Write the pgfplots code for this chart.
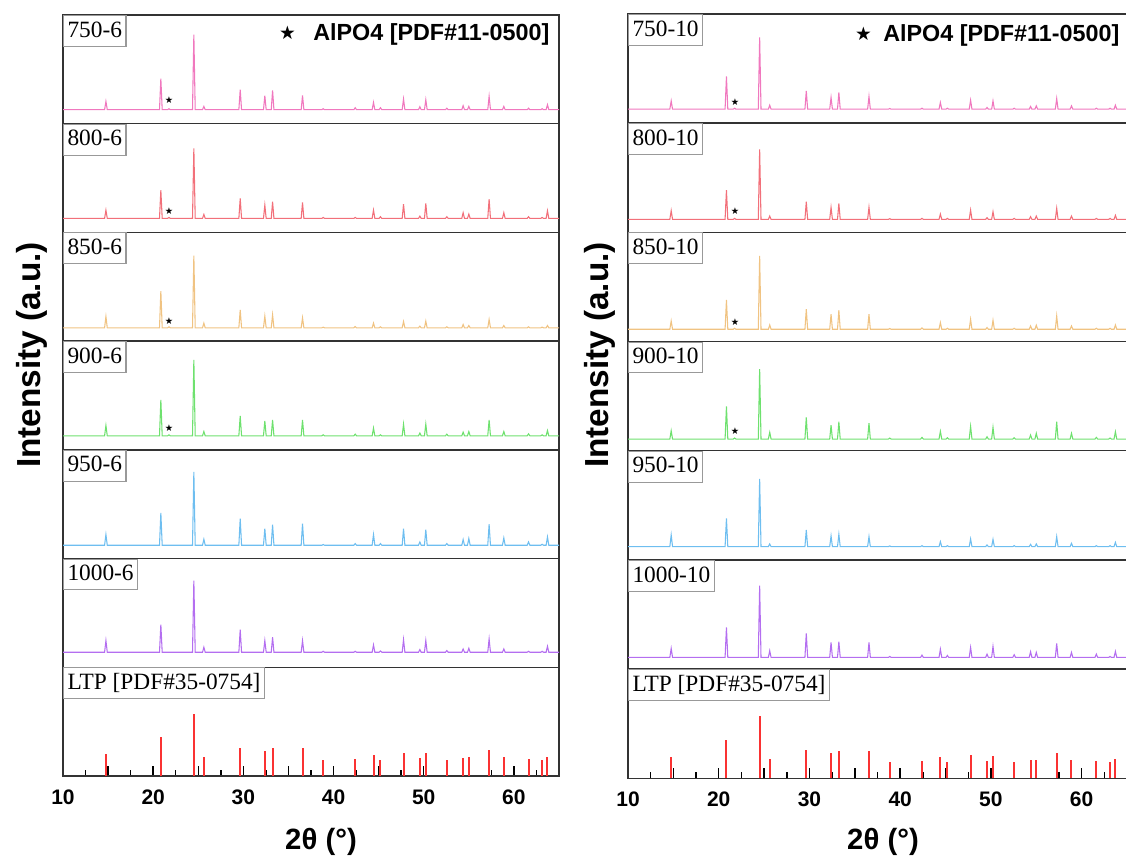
\documentclass[border=0pt]{standalone}
\usepackage{fontspec}
\setmainfont{Liberation Serif}
\setsansfont{Liberation Sans}
\newfontfamily\djv{DejaVu Sans}
\usepackage{pgfplots}
\usepackage{pgfplotstable}
\pgfplotsset{compat=1.18}

\definecolor{c750}{RGB}{240,120,190}
\definecolor{c800}{RGB}{242,112,122}
\definecolor{c850}{RGB}{240,195,130}
\definecolor{c900}{RGB}{110,225,110}
\definecolor{c950}{RGB}{110,190,240}
\definecolor{c1000}{RGB}{180,110,240}
\definecolor{ltpred}{RGB}{250,50,50}

% heights (px above baseline) of each pattern
\pgfplotstableread{
x a750 a800 a850 a900 a950 a1000 b750 b800 b850 b900 b950 b1000
10    0 0 0 0 0 0 0 0 0 0 0 0
14.61 0 0 0 0 0 0 0 0 0 0 0 0
14.76 8.3 8.3 11.3 10.3 10.7 11.7 8.3 8.7 8.3 8.3 11.7 9
14.91 0 0 0 0 0 0 0 0 0 0 0 0
20.70 0 0 0 0 0 0 0 0 0 0 0 0
20.85 31 28.3 36.7 36 32.3 27.7 32.7 29.3 29.3 32.7 28.3 30
21.00 0 0 0 0 0 0 0 0 0 0 0 0
21.60 0 0 0 0 0 0 0 0 0 0 0 0
21.75 1 1 1 1 0 0 1 1 1 1 0 0
21.90 0 0 0 0 0 0 0 0 0 0 0 0
24.36 0 0 0 0 0 0 0 0 0 0 0 0
24.51 75 70 72.3 76 73.3 71.7 71.7 70 73.3 70 67.7 71.7
24.66 0 0 0 0 0 0 0 0 0 0 0 0
25.47 0 0 0 0 0 0 0 0 0 0 0 0
25.62 3.3 4 4.7 4.3 6 5 4 3.3 4.3 6.7 2.7 6.7
25.77 0 0 0 0 0 0 0 0 0 0 0 0
29.50 0 0 0 0 0 0 0 0 0 0 0 0
29.65 20 20 18 20 26.7 22.7 18.3 17.7 20 21.7 16.7 24
29.80 0 0 0 0 0 0 0 0 0 0 0 0
32.23 0 0 0 0 0 0 0 0 0 0 0 0
32.38 14 13.3 11.7 15 16.7 11.7 11.7 12 15 14 10.7 15
32.53 0 0 0 0 0 0 0 0 0 0 0 0
33.09 0 0 0 0 0 0 0 0 0 0 0 0
33.24 19.3 16.7 13 16 20.7 15 16.7 16 19 17.3 12.3 15.7
33.39 0 0 0 0 0 0 0 0 0 0 0 0
36.41 0 0 0 0 0 0 0 0 0 0 0 0
36.56 14.3 16 10 16 21.7 11.7 12.7 12 15 16 10 15
36.71 0 0 0 0 0 0 0 0 0 0 0 0
38.70 0 0 0 0 0 0 0 0 0 0 0 0
38.85 1 1 0.7 1 0.7 1 0.7 0.7 0.7 1 0.7 1
39.00 0 0 0 0 0 0 0 0 0 0 0 0
42.25 0 0 0 0 0 0 0 0 0 0 0 0
42.40 2 1 1.3 1.7 1.7 1 1 1 1.3 1.7 1 2.3
42.55 0 0 0 0 0 0 0 0 0 0 0 0
44.28 0 0 0 0 0 0 0 0 0 0 0 0
44.43 7.3 8.3 4.7 7.7 10.7 7.3 6.7 5.3 6.7 7.7 5 8.3
44.58 0 0 0 0 0 0 0 0 0 0 0 0
45.05 0 0 0 0 0 0 0 0 0 0 0 0
45.20 2 1.7 1 1 1.7 1.3 1 1 1 1.3 1 2
45.35 0 0 0 0 0 0 0 0 0 0 0 0
47.61 0 0 0 0 0 0 0 0 0 0 0 0
47.76 10.7 14.3 6.3 11.7 16.7 12.7 9 9.3 10 12.7 7.7 10
47.91 0 0 0 0 0 0 0 0 0 0 0 0
49.42 0 0 0 0 0 0 0 0 0 0 0 0
49.57 3 2.3 1.7 2.7 3.3 2.7 1.7 1.7 1.7 2.3 1.7 3.3
49.72 0 0 0 0 0 0 0 0 0 0 0 0
50.08 0 0 0 0 0 0 0 0 0 0 0 0
50.23 10 15 6.7 11.7 15.7 11.7 8.3 7.7 9 11.7 7.3 11
50.38 0 0 0 0 0 0 0 0 0 0 0 0
52.41 0 0 0 0 0 0 0 0 0 0 0 0
52.56 1.5 1.7 1 1.7 1.7 1.7 1 1 1 1.3 1 2.7
52.71 0 0 0 0 0 0 0 0 0 0 0 0
54.22 0 0 0 0 0 0 0 0 0 0 0 0
54.37 4 5.7 3.3 3.7 5.7 3.3 2.7 2.7 3.3 4 2.3 5.7
54.52 0 0 0 0 0 0 0 0 0 0 0 0
54.85 0 0 0 0 0 0 0 0 0 0 0 0
55.00 3.3 4.3 2.3 4.3 6.7 4 3.3 3.3 4 5.7 2.7 5
55.15 0 0 0 0 0 0 0 0 0 0 0 0
57.10 0 0 0 0 0 0 0 0 0 0 0 0
57.25 13.3 19.3 8.3 16 21 13.3 10.7 11 13.3 17.3 10 14
57.40 0 0 0 0 0 0 0 0 0 0 0 0
58.73 0 0 0 0 0 0 0 0 0 0 0 0
58.88 3.3 5.7 2.3 4.3 7.3 3.3 3.3 3.3 3.3 5.7 3.3 5
59.03 0 0 0 0 0 0 0 0 0 0 0 0
61.47 0 0 0 0 0 0 0 0 0 0 0 0
61.62 1.5 1.7 1 2 3.3 1 1 1 1 1.7 1 3.3
61.77 0 0 0 0 0 0 0 0 0 0 0 0
62.98 0 0 0 0 0 0 0 0 0 0 0 0
63.13 1 1 0.7 1 1 1 1 1 1 1 1 1
63.28 0 0 0 0 0 0 0 0 0 0 0 0
63.57 0 0 0 0 0 0 0 0 0 0 0 0
63.72 5 7.7 2.3 5.3 8.3 6 4 4 4.3 7.3 4.3 6
63.87 0 0 0 0 0 0 0 0 0 0 0 0
65    0 0 0 0 0 0 0 0 0 0 0 0
}\xrd

% LTP reference lines [PDF#35-0754]
\pgfplotstableread{
x h
14.76 21.7
20.85 38.7
24.51 62
25.62 19
29.65 28.3
32.38 25
33.24 27.7
36.56 27.7
38.85 16.3
42.40 17
44.43 21
45.20 16.3
47.76 23.3
49.57 17.7
50.23 22.7
52.56 16.3
54.37 18.3
55.00 18.7
57.25 25.7
58.88 18.7
61.62 17
63.13 16.3
63.72 19
}\ltp

\pgfplotsset{
  panel/.style={scale only axis, anchor=north west, xmin=10, xmax=65,
    xtick=\empty, ytick=\empty,
    axis line style={line width=1.1pt, black!80}, clip=true},
}
\tikzset{
  lbl/.style={anchor=north west, draw=gray!80, line width=0.8pt, fill=white,
    font=\fontsize{17.5}{18}\selectfont, text height=11.9pt, text depth=2.6pt,
    inner xsep=3pt, inner ysep=4.3pt},
}

% #1 x, #2 y, #3 width, #4 height (pt), #5 ymin, #6 ymax, #7 column, #8 colour, #9 label
\newcommand{\xrdpanel}[9]{%
\begin{axis}[panel, at={(#1pt,#2pt)}, width=#3pt, height=#4pt, ymin=#5, ymax=#6]
\addplot[#8, line width=0.8pt] table[x=x,y=#7]{\xrd};
\ifx\sy\empty\else
\addplot[only marks, mark=text, text mark={\djv\fontsize{7}{7}\selectfont ★}] coordinates {(\sx,\sy)};
\fi
\node[lbl] at (rel axis cs:0,1) {#9};
\end{axis}}

\begin{document}
\begin{tikzpicture}
\path[use as bounding box] (0,0) rectangle (844.5pt,-645.75pt);

% ---------- left stack ----------
\def\sx{21.75}
\def\sy{10}\xrdpanel{47.25}{-11.25}{372}{81.53}{-14}{94.71}{a750}{c750}{750-6}
\def\sy{7.7}\xrdpanel{47.25}{-92.78}{372}{81.53}{-14}{94.71}{a800}{c800}{800-6}
\def\sy{6.3}\xrdpanel{47.25}{-174.31}{372}{81.53}{-13.3}{95.41}{a850}{c850}{850-6}
\def\sy{7.7}\xrdpanel{47.25}{-255.84}{372}{81.53}{-14}{94.71}{a900}{c900}{900-6}
\def\sy{}\xrdpanel{47.25}{-337.37}{372}{81.53}{-13.3}{95.41}{a950}{c950}{950-6}
\def\sy{}\xrdpanel{47.25}{-418.9}{372}{81.53}{-15}{93.71}{a1000}{c1000}{1000-6}

\begin{axis}[panel, at={(47.25pt,-500.43pt)}, width=372pt, height=81.53pt,
  ymin=0, ymax=108.71,
  xtick={10,15,...,60}, xticklabels={10,,20,,30,,40,,50,,60},
  minor xtick={12.5,17.5,...,62.5},
  xtick pos=bottom, tick align=inside,
  major tick length=7.5pt, minor tick length=4.5pt,
  every tick/.style={black, line width=1.1pt},
  xticklabel style={font=\sffamily\bfseries\fontsize{15.75}{16}\selectfont, yshift=-6.5pt}]
\addplot[ycomb, ltpred, line width=1.5pt] table[x=x,y=h]{\ltp};
\node[lbl] at (rel axis cs:0,1) {LTP [PDF\#35-0754]};
\end{axis}

% ---------- right stack ----------
\def\sx{21.8}
\def\sy{6.7}\xrdpanel{471}{-10.5}{374.25}{81.89}{-14}{95.19}{b750}{c750}{750-10}
\def\sy{8.7}\xrdpanel{471}{-92.39}{374.25}{81.89}{-13}{96.19}{b800}{c800}{800-10}
\def\sy{7.3}\xrdpanel{471}{-174.28}{374.25}{81.89}{-12.3}{96.89}{b850}{c850}{850-10}
\def\sy{8.3}\xrdpanel{471}{-256.17}{374.25}{81.89}{-11.7}{97.49}{b900}{c900}{900-10}
\def\sy{}\xrdpanel{471}{-338.06}{374.25}{81.89}{-13.3}{95.89}{b950}{c950}{950-10}
\def\sy{}\xrdpanel{471}{-419.95}{374.25}{81.89}{-11.7}{97.49}{b1000}{c1000}{1000-10}

\begin{axis}[panel, at={(471pt,-501.84pt)}, width=374.25pt, height=81.89pt,
  ymin=0, ymax=109.19,
  xtick={10,15,...,60}, xticklabels={10,,20,,30,,40,,50,,60},
  minor xtick={12.5,17.5,...,62.5},
  xtick pos=bottom, tick align=inside,
  major tick length=7.5pt, minor tick length=4.5pt,
  every tick/.style={black, line width=1.1pt},
  xticklabel style={font=\sffamily\bfseries\fontsize{15.75}{16}\selectfont, yshift=-6.5pt}]
\addplot[ycomb, ltpred, line width=1.5pt] table[x=x,y=h]{\ltp};
\node[lbl] at (rel axis cs:0,1) {LTP [PDF\#35-0754]};
\end{axis}

% ---------- labels ----------
\node[rotate=90, font=\sffamily\bfseries\fontsize{25}{26}\selectfont] at (24pt,-266.25pt) {Intensity (a.u.)};
\node[rotate=90, font=\sffamily\bfseries\fontsize{25}{26}\selectfont] at (450pt,-266.25pt) {Intensity (a.u.)};
\node[font=\sffamily\bfseries\fontsize{22}{23}\selectfont] at (240.75pt,-631.5pt) {2θ (°)};
\node[font=\sffamily\bfseries\fontsize{22}{23}\selectfont] at (662.25pt,-631.5pt) {2θ (°)};

\node[font=\djv\fontsize{14}{14}\selectfont, inner sep=0pt] at (215.6pt,-24.75pt) {★};
\node[anchor=west, inner sep=0pt, font=\sffamily\bfseries\fontsize{17.5}{18}\selectfont] at (234.75pt,-25.5pt) {AlPO4 [PDF\#11-0500]};
\node[font=\djv\fontsize{14}{14}\selectfont, inner sep=0pt] at (647.6pt,-25.5pt) {★};
\node[anchor=west, inner sep=0pt, font=\sffamily\bfseries\fontsize{17.5}{18}\selectfont] at (662.25pt,-26.25pt) {AlPO4 [PDF\#11-0500]};
\end{tikzpicture}
\end{document}
